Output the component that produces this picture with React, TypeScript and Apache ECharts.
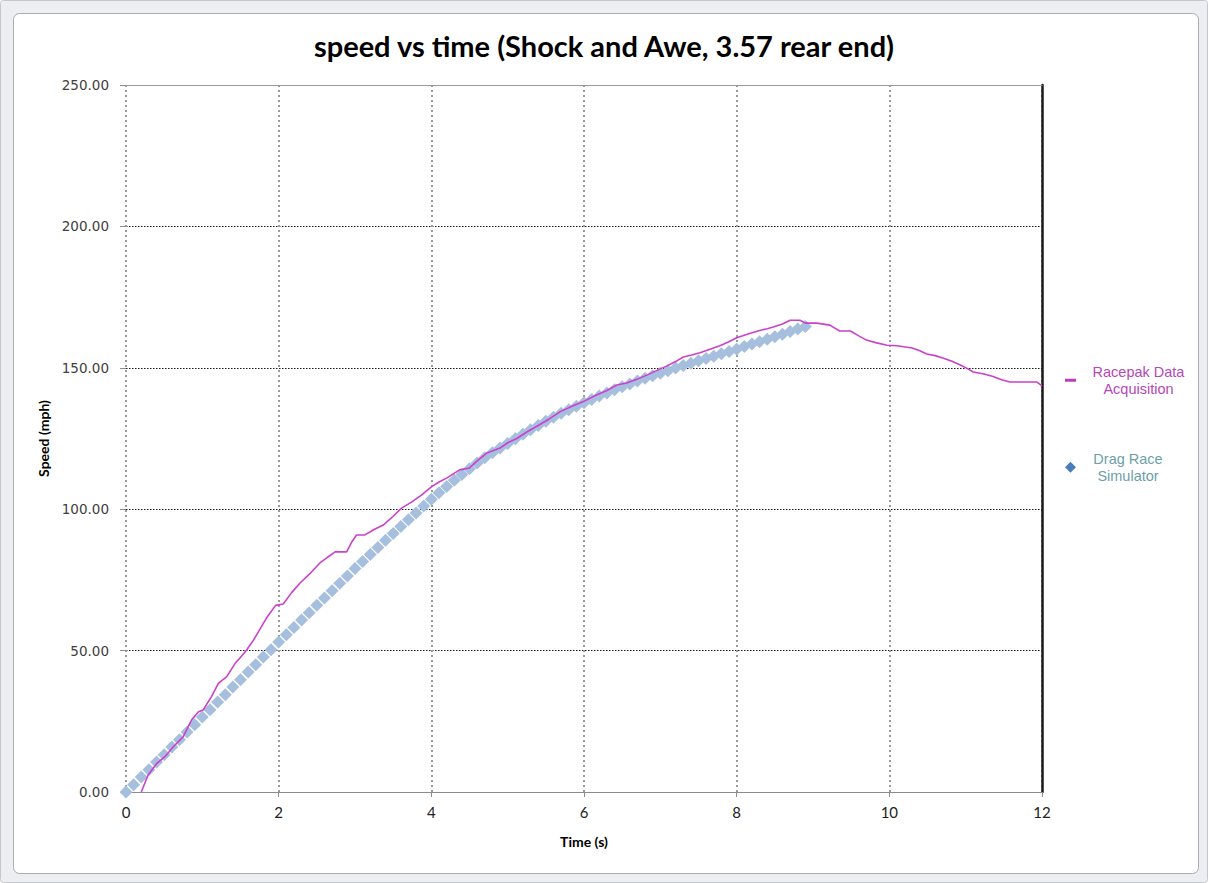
import React, { useEffect, useRef } from "react";
import * as echarts from "echarts";

const chartTitle = "speed vs time (Shock and Awe, 3.57 rear end)";
const xAxisTitle = "Time (s)";
const yAxisTitle = "Speed (mph)";
const racepakName = "Racepak Data Acquisition";
const simName = "Drag Race Simulator";

// Racepak data acquisition (time s, speed mph)
const racepakTime = [
  0.2, 0.29, 0.4, 0.51, 0.62, 0.75, 0.86, 0.95, 1.01, 1.12, 1.21, 1.32, 1.43, 1.49, 1.58, 1.67,
  1.84, 1.96, 2.06, 2.17, 2.28, 2.42, 2.54, 2.64, 2.74, 2.89, 2.96, 3.02, 3.13, 3.25, 3.37, 3.5,
  3.61, 3.74, 3.87, 4.0, 4.1, 4.2, 4.37, 4.5, 4.62, 4.73, 4.9, 5.0, 5.12, 5.25, 5.4, 5.55, 5.69,
  5.85, 6.01, 6.15, 6.3, 6.43, 6.56, 6.7, 6.83, 6.95, 7.08, 7.2, 7.3, 7.41, 7.52, 7.65, 7.78, 7.9,
  8.0, 8.08, 8.17, 8.3, 8.4, 8.48, 8.6, 8.7, 8.83, 8.9, 9.05, 9.22, 9.35, 9.49, 9.6, 9.7, 9.82,
  9.97, 10.1, 10.3, 10.4, 10.49, 10.6, 10.7, 10.82, 10.93, 11.02, 11.1, 11.24, 11.36, 11.47,
  11.58, 11.93, 12.0,
];
const racepakSpeed = [
  0, 6, 10, 12.5, 16, 19.6, 25.5, 28.4, 29, 33.7, 38.4, 40.8, 45.5, 47.3, 50.2, 53.7,
  61.5, 66, 66.5, 70.5, 73.9, 77.5, 81, 83, 84.9, 84.9, 88.5, 90.9, 90.9, 92.8, 94.4, 97.5,
  100.4, 102.5, 105, 107.9, 109.6, 111, 113.9, 114.6, 117.5, 119.9, 121.6, 123.5, 125, 127.3, 129.6, 132, 134.5,
  136.5, 138.3, 140.2, 142, 143.9, 144.6, 146, 147.5, 149, 150.6, 152.2, 153.8, 154.5, 155.3, 156.6, 157.8, 159.2,
  160.6, 161.3, 162.1, 163.2, 163.8, 164.4, 165.5, 166.8, 166.8, 165.8, 165.8, 165.1, 163, 163, 161.3, 159.8, 158.9,
  158, 157.8, 157, 156, 154.9, 154.3, 153.5, 152.3, 151, 149.8, 148.5, 147.8, 146.9, 145.8,
  145, 145, 143.6,
];

// Drag race simulator (time s, speed mph)
const simTime = [
  0.0, 0.1, 0.2, 0.3, 0.4, 0.5, 0.6, 0.7, 0.8, 0.9, 1.0, 1.1, 1.2, 1.3, 1.4, 1.5, 1.6, 1.7, 1.8, 1.9,
  2.0, 2.1, 2.2, 2.3, 2.4, 2.5, 2.6, 2.7, 2.8, 2.9, 3.0, 3.1, 3.2, 3.3, 3.4, 3.5, 3.6, 3.7, 3.8, 3.9,
  4.0, 4.1, 4.2, 4.3, 4.4, 4.5, 4.6, 4.7, 4.8, 4.9, 5.0, 5.1, 5.2, 5.3, 5.4, 5.5, 5.6, 5.7, 5.8, 5.9,
  6.0, 6.1, 6.2, 6.3, 6.4, 6.5, 6.6, 6.7, 6.8, 6.9, 7.0, 7.1, 7.2, 7.3, 7.4, 7.5, 7.6, 7.7, 7.8, 7.9,
  8.0, 8.1, 8.2, 8.3, 8.4, 8.5, 8.6, 8.7, 8.8, 8.9,
];
const simSpeed = [
  0, 2.6, 5.3, 7.9, 10.6, 13.2, 15.9, 18.5, 21.2, 23.8, 26.5, 29.1, 31.8, 34.4, 37.1, 39.7, 42.4, 45.0, 47.7, 50.3,
  53.0, 55.6, 58.2, 60.8, 63.4, 66.0, 68.6, 71.2, 73.8, 76.4, 79.0, 81.5, 84.0, 86.5, 89.0, 91.4, 93.9, 96.3, 98.7, 101.1,
  103.5, 105.8, 108.0, 110.2, 112.3, 114.3, 116.3, 118.2, 120.0, 121.6, 123.2, 124.9, 126.5, 128.1, 129.6, 131.1, 132.5, 133.9, 135.2, 136.4,
  137.6, 138.8, 140.0, 141.1, 142.2, 143.3, 144.3, 145.3, 146.3, 147.2, 148.1, 149.0, 149.9, 150.8, 151.6, 152.5, 153.3, 154.1, 155.0, 155.8,
  156.6, 157.5, 158.4, 159.2, 160.1, 161.0, 161.9, 162.8, 163.7, 164.6,
];

const xMin = 0;
const xMax = 12;
const xInterval = 2;
const yMin = 0;
const yMax = 250;
const yInterval = 50;

const MAGENTA = "#cc40cc";
const PURPLE = "#8a58c2";
const SIM_COLOR = "#a6bfdf";

export default function App() {
  const ref = useRef<HTMLDivElement>(null);

  useEffect(() => {
    if (!ref.current) return;
    const chart = echarts.init(ref.current, null, { renderer: "svg" });
    const W = 1208;
    const H = 883;

    const option: any = {
      animation: false,
      backgroundColor: "transparent",
      graphic: [
        {
          type: "rect",
          z: -10,
          silent: true,
          shape: { x: 0.5, y: 0.5, width: W - 1, height: H - 1, r: 3 },
          style: { fill: "#eceef1", stroke: "#c4c7cc", lineWidth: 1 },
        },
        {
          type: "rect",
          z: -9,
          silent: true,
          shape: { x: 13.5, y: 13.5, width: 1198 - 13, height: 873 - 13, r: 6 },
          style: { fill: "#ffffff", stroke: "#a9acb0", lineWidth: 1 },
        },
      ],
      title: {
        text: chartTitle,
        left: "center",
        top: 31,
        padding: 0,
        textStyle: {
          fontFamily: "Lato",
          fontWeight: "bold",
          fontSize: 29,
          color: "#000000",
        },
      },
      grid: { left: 126, right: 166, top: 85, bottom: 91, containLabel: false },
      legend: [
        {
          left: 1065,
          top: 364,
          padding: 0,
          orient: "vertical",
          itemWidth: 11,
          itemHeight: 3,
          selectedMode: false,
          data: [{ name: racepakName, icon: "rect", itemStyle: { color: "#bb3dbb" } }],
          formatter: () => "{s|}{a|Racepak Data}\n{s|}{a|Acquisition}",
          textStyle: {
            rich: {
              s: { width: 11 },
              a: {
                width: 93,
                align: "center",
                fontFamily: "Liberation Sans",
                fontSize: 14.5,
                lineHeight: 17.5,
                color: "#b548b5",
              },
            },
          },
        },
        {
          left: 1065,
          top: 451,
          padding: 0,
          orient: "vertical",
          itemWidth: 11,
          itemHeight: 11,
          selectedMode: false,
          data: [{ name: simName, icon: "diamond", itemStyle: { color: "#4a7ebb" } }],
          formatter: () => "{s|}{a|Drag Race}\n{s|}{a|Simulator}",
          textStyle: {
            rich: {
              s: { width: 12 },
              a: {
                width: 70,
                align: "center",
                fontFamily: "Liberation Sans",
                fontSize: 14.5,
                lineHeight: 17.5,
                color: "#6e9fa8",
              },
            },
          },
        },
      ],
      visualMap: {
        type: "piecewise",
        show: false,
        seriesIndex: 0,
        dimension: 0,
        pieces: [
          { lt: 0.27, color: MAGENTA },
          { gte: 0.27, lt: 0.82, color: PURPLE },
          { gte: 0.82, lt: 4.65, color: MAGENTA },
          { gte: 4.65, lt: 6.9, color: PURPLE },
          { gte: 6.9, color: MAGENTA },
        ],
      },
      xAxis: [
        {
          type: "value",
          min: xMin,
          max: xMax,
          interval: xInterval,
          position: "bottom",
          name: xAxisTitle,
          nameLocation: "middle",
          nameGap: 42,
          nameTextStyle: {
            fontFamily: "Lato",
            fontWeight: "bold",
            fontSize: 14,
            color: "#000",
          },
          axisLine: { show: true, lineStyle: { color: "#8c8c8c", width: 1.2 } },
          axisTick: { show: true, inside: false, length: 5, lineStyle: { color: "#8c8c8c" } },
          axisLabel: {
            margin: 12,
            fontFamily: "Lato",
            fontSize: 15,
            color: "#222",
          },
          splitLine: {
            show: true,
            lineStyle: { color: "#9a9a9a", width: 2, type: [2, 3] },
          },
        },
        {
          type: "value",
          min: xMin,
          max: xMax,
          interval: xInterval,
          position: "top",
          axisLine: { show: true, onZero: false, lineStyle: { color: "#9a9a9a", width: 1.2 } },
          axisTick: { show: false },
          axisLabel: { show: false },
          splitLine: { show: false },
        },
      ],
      yAxis: [
        {
          type: "value",
          min: yMin,
          max: yMax,
          interval: yInterval,
          position: "left",
          name: yAxisTitle,
          nameLocation: "middle",
          nameGap: 70,
          nameRotate: 90,
          nameTextStyle: {
            fontFamily: "Lato",
            fontWeight: "bold",
            fontSize: 14,
            color: "#000",
          },
          axisLine: { show: false },
          axisTick: { show: true, inside: false, length: 6, lineStyle: { color: "#8c8c8c" } },
          axisLabel: {
            margin: 17,
            fontFamily: "DejaVu Sans",
            fontSize: 13.5,
            color: "#404040",
            formatter: (v: number) => v.toFixed(2),
          },
          splitLine: {
            show: true,
            lineStyle: { color: "#1a1a1a", width: 1.2, type: [1.5, 1.5] },
          },
        },
        {
          type: "value",
          min: yMin,
          max: yMax,
          interval: yInterval,
          position: "right",
          axisLine: { show: true, onZero: false, lineStyle: { color: "#1a1a1a", width: 2.5 } },
          axisTick: { show: false },
          axisLabel: { show: false },
          splitLine: { show: false },
        },
      ],
      series: [
        {
          name: racepakName,
          type: "line",
          xAxisIndex: 0,
          yAxisIndex: 0,
          data: racepakTime.map((t, i) => [t, racepakSpeed[i]]),
          showSymbol: false,
          symbol: "none",
          lineStyle: { width: 1.6, color: MAGENTA },
          itemStyle: { color: MAGENTA },
          z: 4,
          clip: true,
        },
        {
          name: simName,
          type: "scatter",
          xAxisIndex: 0,
          yAxisIndex: 0,
          data: simTime.map((t, i) => [t, simSpeed[i]]),
          symbol: "diamond",
          symbolSize: 13,
          itemStyle: { color: SIM_COLOR, opacity: 1 },
          z: 3,
          clip: false,
        },
      ],
    };

    chart.setOption(option);
    return () => chart.dispose();
  }, []);

  return (
    <div
      ref={ref}
      style={{ position: "absolute", left: 0, top: 0, width: 1208, height: 883 }}
    />
  );
}
